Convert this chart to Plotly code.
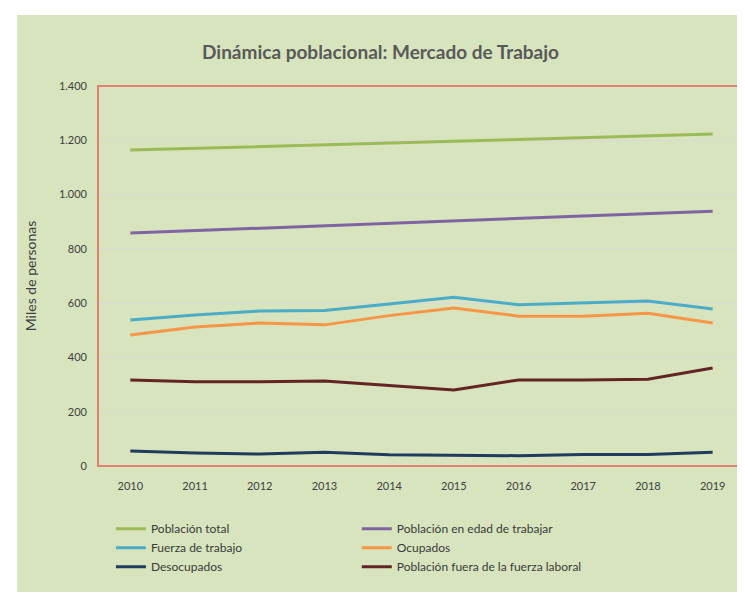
import plotly.graph_objects as go

years = ["2010", "2011", "2012", "2013", "2014", "2015", "2016", "2017", "2018", "2019"]

poblacion_total = [1164, 1170, 1177, 1183, 1190, 1196, 1203, 1210, 1216, 1223]
poblacion_edad_trabajar = [858, 867, 876, 885, 894, 903, 912, 921, 930, 939]
fuerza_trabajo = [538, 556, 571, 573, 597, 622, 594, 600, 608, 578]
ocupados = [483, 512, 527, 520, 554, 582, 552, 552, 563, 527]
desocupados = [55, 48, 44, 51, 41, 40, 38, 42, 42, 51]
fuera_fuerza = [317, 310, 310, 313, 297, 280, 317, 317, 320, 361]

y_ticks = [0, 200, 400, 600, 800, 1000, 1200, 1400]

series = [
    ("Población total", poblacion_total, "#9BBB59", "legend"),
    ("Población en edad de trabajar", poblacion_edad_trabajar, "#8064A2", "legend2"),
    ("Fuerza de trabajo", fuerza_trabajo, "#4BACC6", "legend"),
    ("Ocupados", ocupados, "#F79646", "legend2"),
    ("Desocupados", desocupados, "#1F3B5E", "legend"),
    ("Población fuera de la fuerza laboral", fuera_fuerza, "#632523", "legend2"),
]

fig = go.Figure()
for name, vals, color, leg in series:
    fig.add_trace(go.Scatter(
        x=years, y=vals, name=name, mode="lines",
        line=dict(color=color, width=3),
        legend=leg,
    ))

font_fam = "Lato, 'Open Sans', sans-serif"
bg = "#D7E4BD"

fig.update_layout(
    width=745, height=592,
    paper_bgcolor="white",
    plot_bgcolor="white",
    separators=",.",
    margin=dict(l=90, r=8, t=78, b=134, autoexpand=False),
    title=dict(
        text="<b>Dinámica poblacional: Mercado de Trabajo</b>",
        x=0.5, xref="container", xanchor="center", y=0.925, yref="container", yanchor="middle",
        font=dict(family=font_fam, size=19, color="#595959"),
    ),
    font=dict(family=font_fam, color="#404040", size=11),
    xaxis=dict(
        type="category", range=[-0.5, 9.5],
        showgrid=False, showline=False, zeroline=False,
        ticks="", tickfont=dict(size=11, color="#404040"),
        ticklabelstandoff=12, automargin=False,
    ),
    yaxis=dict(
        range=[0, 1400], tickvals=y_ticks, tickformat=",d",
        showgrid=True, gridcolor="#D9D9D9", gridwidth=1,
        zeroline=False, showline=False, ticks="",
        tickfont=dict(size=11, color="#404040"),
        ticklabelstandoff=10, automargin=False,
        title=dict(text="Miles de personas", font=dict(size=14, color="#404040"), standoff=18),
    ),
    legend=dict(
        x=0.02, y=-0.127, xanchor="left", yanchor="top", orientation="v",
        bgcolor="rgba(0,0,0,0)", font=dict(size=12, color="#3A3A3A"),
        tracegroupgap=0, itemwidth=30,
    ),
    legend2=dict(
        x=0.4, y=-0.127, xanchor="left", yanchor="top", orientation="v",
        bgcolor="rgba(0,0,0,0)", font=dict(size=12, color="#3A3A3A"),
        tracegroupgap=0, itemwidth=30,
    ),
    shapes=[
        dict(type="rect", xref="paper", yref="paper", x0=-0.125, x1=1.02, y0=-0.34, y1=1.187,
             fillcolor=bg, line=dict(width=0), layer="below"),
        dict(type="rect", xref="paper", yref="paper", x0=0, x1=1, y0=0, y1=1,
             fillcolor="rgba(0,0,0,0)", line=dict(color="#E0806E", width=2), layer="above"),
    ],
)

fig.write_html("out.html")
